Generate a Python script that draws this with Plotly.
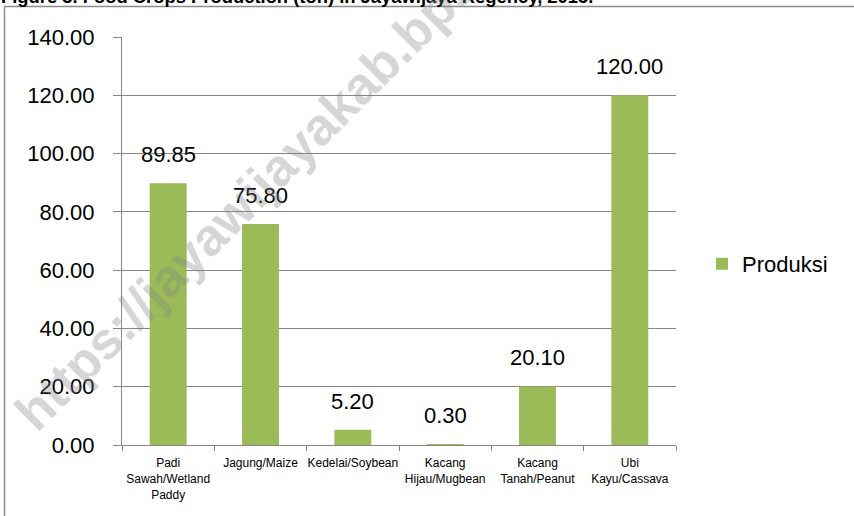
import plotly.graph_objects as go

categories = ["Padi<br>Sawah/Wetland<br>Paddy", "Jagung/Maize", "Kedelai/Soybean",
              "Kacang<br>Hijau/Mugbean", "Kacang<br>Tanah/Peanut", "Ubi<br>Kayu/Cassava"]
produksi = [89.85, 75.80, 5.20, 0.30, 20.10, 120.00]
y_ticks = [0, 20, 40, 60, 80, 100, 120, 140]
series_name = "Produksi"
title_text = "Figure 3. Food Crops Production (ton) in Jayawijaya Regency, 2015."
watermark = "https://jayawijayakab.bps.go.id"

FONT = "Liberation Sans, Arial, sans-serif"
GRID = "#868686"
W, H = 854, 516
L, R, T, B = 122, 178, 37, 71
pw, ph = W - L - R, H - T - B

def px_x(x):
    return (x - L) / pw

def px_y(y):
    return (H - B - y) / ph

fig = go.Figure()
fig.add_trace(go.Bar(x=categories, y=produksi, name=series_name,
                     marker=dict(color="#9BBB59", line=dict(width=0)),
                     showlegend=True))

annotations = []
for c, v in zip(categories, produksi):
    annotations.append(dict(x=c, y=v, xref="x", yref="y", text=f"{v:.2f}",
                            showarrow=False, yanchor="bottom", yshift=14,
                            font=dict(family=FONT, size=22, color="#000000")))

annotations.append(dict(x=px_x(-1), y=px_y(9), xref="paper", yref="paper",
                        text=f"<b>{title_text}</b>", showarrow=False,
                        xanchor="left", yanchor="bottom",
                        font=dict(family=FONT, size=18.4, color="#000000")))

annotations.append(dict(x=px_x(295), y=px_y(150), xref="paper", yref="paper",
                        text=f"<b>{watermark}</b>", showarrow=False,
                        xanchor="center", yanchor="middle", textangle=-45,
                        font=dict(family=FONT, size=52, color="rgba(128,128,128,0.32)")))

fig.update_layout(
    width=W, height=H,
    margin=dict(l=L, r=R, t=T, b=B, autoexpand=False),
    paper_bgcolor="white", plot_bgcolor="white",
    bargap=0.6,
    font=dict(family=FONT, color="#000000"),
    legend=dict(x=px_x(702), y=px_y(264), xanchor="left", yanchor="middle",
                font=dict(family=FONT, size=22, color="#000000"),
                bgcolor="rgba(0,0,0,0)"),
    annotations=annotations,
    shapes=[dict(type="rect", xref="paper", yref="paper",
                 x0=px_x(4.5), x1=px_x(900), y0=px_y(560), y1=px_y(6.5),
                 line=dict(color="#8c8c8c", width=1.5), fillcolor="rgba(0,0,0,0)",
                 layer="below")],
)

fig.update_xaxes(type="category", showline=True, linecolor=GRID, linewidth=1,
                 ticks="outside", tickson="boundaries", ticklen=5, tickcolor=GRID,
                 tickangle=0, automargin=False, ticklabelstandoff=7,
                 showgrid=False, tickfont=dict(family=FONT, size=12, color="#000000"))
fig.update_yaxes(range=[0, 140], tickvals=y_ticks, tickformat=".2f",
                 showline=True, linecolor=GRID, linewidth=1,
                 ticks="outside", ticklen=8, tickcolor=GRID, automargin=False,
                 showgrid=True, gridcolor=GRID, gridwidth=1, zeroline=False,
                 ticklabelstandoff=14,
                 tickfont=dict(family=FONT, size=22, color="#000000"))

fig.write_html("out.html")
